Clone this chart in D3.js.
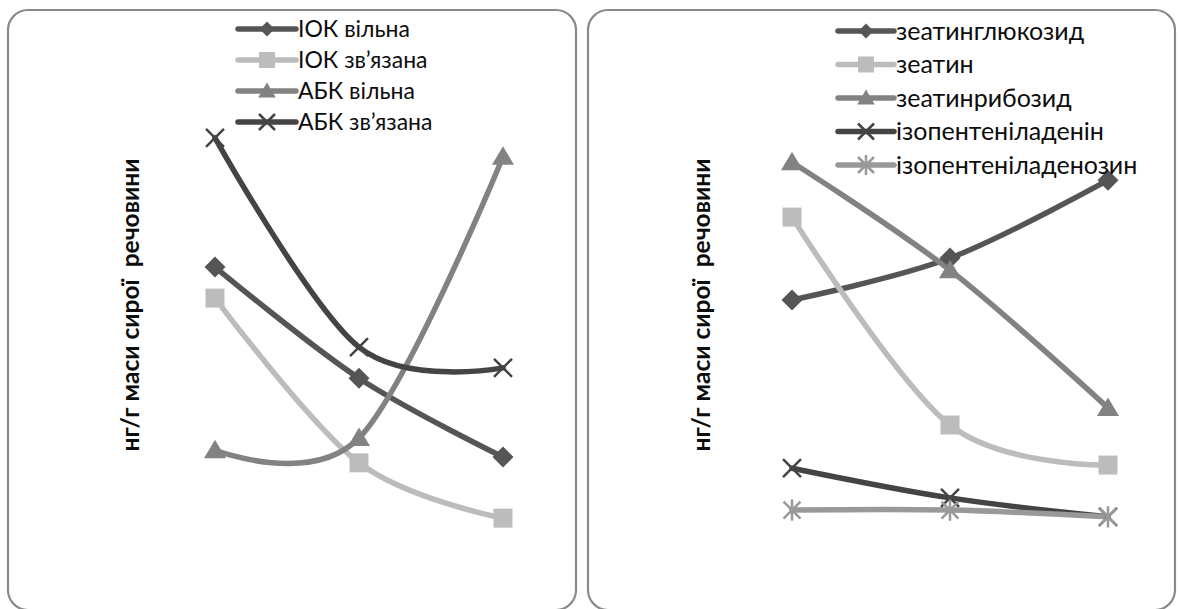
<!DOCTYPE html>
<html><head><meta charset="utf-8">
<script src="https://cdn.jsdelivr.net/npm/d3@7"></script>
<style>body{margin:0;background:#fff} svg{display:block} text{font-family:Lato,"Noto Sans",sans-serif}</style>
</head><body><svg id="c" width="1179" height="609"></svg>
<script>
// ---- data ----
const categories = ["1", "2", "3"];
const leftNames = ["ІОК вільна", "ІОК зв’язана", "АБК вільна", "АБК зв’язана"];
const iokFree = [65.1, 40.4, 22.9];
const iokBound = [58.2, 21.6, 9.3];
const abaFree = [24.4, 27.1, 89.6];
const abaBound = [93.8, 47.3, 42.7];
const rightNames = ["зеатинглюкозид", "зеатин", "зеатинрибозид", "ізопентеніладенін", "ізопентеніладенозин"];
const zeatinGlucoside = [57.8, 67.1, 84.4];
const zeatin = [76.2, 30.0, 21.1];
const zeatinRiboside = [88.4, 64.4, 33.8];
const ipAdenine = [20.4, 13.8, 9.6];
const ipAdenosine = [11.1, 11.1, 9.6];
const yLabel = "нг/г маси сирої  речовини";

// ---- symbols ----
const diamondSym = {draw(c, r){c.moveTo(0,-r);c.lineTo(r,0);c.lineTo(0,r);c.lineTo(-r,0);c.closePath();}};
const squareSym = {draw(c, r){c.moveTo(-r,-r);c.lineTo(r,-r);c.lineTo(r,r);c.lineTo(-r,r);c.closePath();}};
const triSym = {draw(c, r){c.moveTo(0,-r*1.05);c.lineTo(r*1.1,r*0.8);c.lineTo(-r*1.1,r*0.8);c.closePath();}};
const xSym = {draw(c, r){c.moveTo(-r,-r);c.lineTo(r,r);c.moveTo(r,-r);c.lineTo(-r,r);}};
const starSym = {draw(c, r){c.moveTo(-r,-r);c.lineTo(r,r);c.moveTo(r,-r);c.lineTo(-r,r);c.moveTo(0,-r*1.25);c.lineTo(0,r*1.25);}};

const styleDiamond = {color:"#555555", sym:diamondSym, fill:true, r:10.5, lr:7.5};
const styleSquare  = {color:"#bcbcbc", sym:squareSym, fill:true, r:9.5, lr:8};
const styleTri     = {color:"#828282", sym:triSym, fill:true, r:10, lr:8};
const styleX       = {color:"#444444", sym:xSym, fill:false, r:9, lr:8};
const styleStar    = {color:"#999999", sym:starSym, fill:false, r:8.5, lr:8};

const panels = [
  {box:[8, 10, 576, 610], xr:[215, 503], lx:238, tx:298, ly0:29, lstep:31, labX:130, fs:23,
   series:[[leftNames[0], iokFree, styleDiamond],[leftNames[1], iokBound, styleSquare],[leftNames[2], abaFree, styleTri],[leftNames[3], abaBound, styleX]]},
  {box:[588, 10, 1175, 610], xr:[792, 1108], lx:838, tx:896, ly0:31, lstep:33.5, labX:701, fs:25,
   series:[[rightNames[0], zeatinGlucoside, styleDiamond],[rightNames[1], zeatin, styleSquare],[rightNames[2], zeatinRiboside, styleTri],[rightNames[3], ipAdenine, styleX],[rightNames[4], ipAdenosine, styleStar]]}
];

const svg = d3.select("#c");
const y = d3.scaleLinear().domain([0, 100]).range([560, 110]);

panels.forEach(p => {
  const [x0, y0, x1, y1] = p.box;
  svg.append("rect").attr("x", x0).attr("y", y0).attr("width", x1 - x0).attr("height", y1 - y0)
    .attr("rx", 20).attr("fill", "#fff").attr("stroke", "#8a8a8a").attr("stroke-width", 2.2);
  const x = d3.scalePoint().domain(categories).range(p.xr).padding(0);
  const line = d3.line().x((d, i) => x(categories[i])).y(d => y(d)).curve(d3.curveCardinal.tension(0));
  const g = svg.append("g");
  p.series.forEach(([name, vals, st]) => {
    g.append("path").attr("d", line(vals)).attr("fill", "none").attr("stroke", st.color)
      .attr("stroke-width", 5.5).attr("stroke-linecap", "round");
  });
  p.series.forEach(([name, vals, st]) => {
    g.selectAll(null).data(vals).enter().append("path")
      .attr("transform", (d, i) => `translate(${x(categories[i])},${y(d)})`)
      .attr("d", d3.symbol().type(st.sym).size(st.r))
      .attr("fill", st.fill ? st.color : "none")
      .attr("stroke", st.color).attr("stroke-width", st.fill ? 0 : 2.5);
  });
  // legend
  p.series.forEach(([name, vals, st], i) => {
    const ly = p.ly0 + i * p.lstep;
    svg.append("line").attr("x1", p.lx).attr("x2", p.tx - 2).attr("y1", ly).attr("y2", ly)
      .attr("stroke", st.color).attr("stroke-width", 5.5).attr("stroke-linecap", "round");
    svg.append("path").attr("transform", `translate(${(p.lx + p.tx - 2) / 2},${ly})`)
      .attr("d", d3.symbol().type(st.sym).size(st.lr))
      .attr("fill", st.fill ? st.color : "none")
      .attr("stroke", st.color).attr("stroke-width", st.fill ? 0 : 2.5);
    svg.append("text").attr("x", p.tx).attr("y", ly).attr("dy", "0.35em")
      .attr("font-size", p.fs).attr("fill", "#0d0d0d").text(name);
  });
  // y label
  svg.append("text").attr("transform", `translate(${p.labX},305) rotate(-90)`)
    .attr("text-anchor", "middle").attr("dy", "0.35em").attr("font-weight", "bold")
    .attr("font-size", 24.5).attr("fill", "#0d0d0d").style("white-space", "pre").text(yLabel);
});
</script></body></html>
